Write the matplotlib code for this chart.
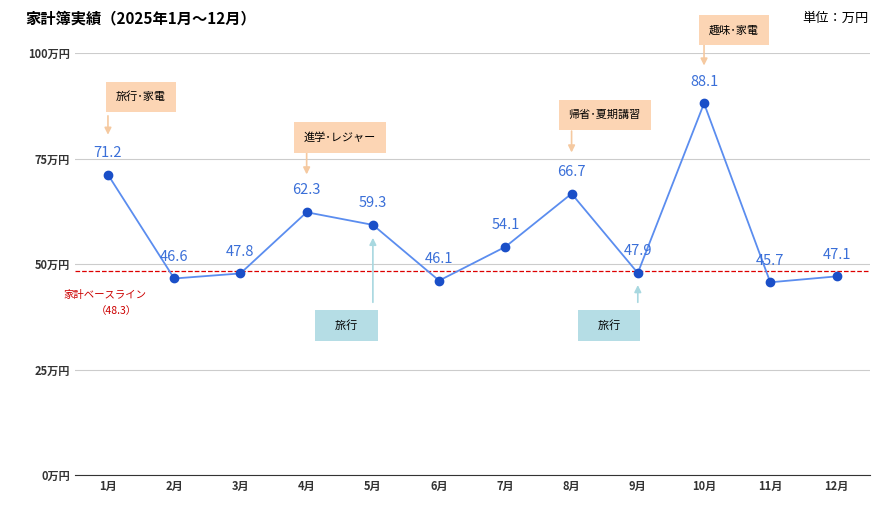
import matplotlib.pyplot as plt

plt.rcParams['font.family'] = ['Noto Sans CJK JP', 'DejaVu Sans']

months = ['1月', '2月', '3月', '4月', '5月', '6月', '7月', '8月', '9月', '10月', '11月', '12月']
values = [71.2, 46.6, 47.8, 62.3, 59.3, 46.1, 54.1, 66.7, 47.9, 88.1, 45.7, 47.1]
baseline = 48.3
yticks = [0, 25, 50, 75, 100]

# (text, box x, box y, arrow x, arrow start y, arrow end y)
notes_up = [('旅行･家電', 1.5, 89.6, 1, 85.8, 80.0),
            ('進学･レジャー', 4.5, 80.0, 4, 77.0, 70.6),
            ('帰省･夏期講習', 8.5, 85.3, 8, 82.2, 75.8),
            ('趣味･家電', 10.45, 105.4, 10, 102.6, 96.4)]
notes_down = [('旅行', 4.6, 35.5, 5, 40.3, 56.9),
              ('旅行', 8.57, 35.5, 9, 40.3, 45.7)]

fig = plt.figure(figsize=(8.91, 5.21), dpi=100)
ax = fig.add_axes([0.084, 0.088, 0.892, 0.81])
x = list(range(1, 13))

ax.plot(x, values, color='#5b8def', lw=1.3, zorder=3)
ax.scatter(x, values, color='#1a4fc8', s=36, zorder=4)
for xi, v in zip(x, values):
    ax.text(xi, v + 3.5, f'{v}', ha='center', va='bottom', color='#3a6fd8', fontsize=10.5)

ax.axhline(baseline, color='#dd0000', ls='--', lw=0.9, zorder=2)
ax.text(0.95, baseline - 5.5, '家計ベースライン', color='#cc0000', fontsize=7.5, ha='center', va='center')
ax.text(1.13, baseline - 9.5, '（48.3）', color='#cc0000', fontsize=7.5, ha='center', va='center')

for t, bx, by, axx, y0, y1 in notes_up:
    ax.text(bx, by, t, ha='center', va='center', fontsize=8,
            bbox=dict(boxstyle='square,pad=0.9', fc='#fcd5b4', ec='none'), zorder=5)
    ax.annotate('', xy=(axx, y1), xytext=(axx, y0),
                arrowprops=dict(arrowstyle='-|>', color='#f5c9a0', lw=1.2))
for t, bx, by, axx, y0, y1 in notes_down:
    ax.text(bx, by, '    ' + t + '    ', ha='center', va='center', fontsize=8,
            bbox=dict(boxstyle='square,pad=0.9', fc='#b5dde5', ec='none'), zorder=5)
    ax.annotate('', xy=(axx, y1), xytext=(axx, y0),
                arrowprops=dict(arrowstyle='-|>', color='#a8d8e0', lw=1.2))

ax.set_xlim(0.5, 12.5)
ax.set_ylim(0, 100)
ax.set_xticks(x)
ax.set_xticklabels(months, fontsize=8)
ax.set_yticks(yticks)
ax.set_yticklabels([f'{v}万円' for v in yticks], fontsize=8)
ax.grid(axis='y', color='#cccccc', lw=0.8)
ax.tick_params(length=0)
for s in ['top', 'right', 'left']:
    ax.spines[s].set_visible(False)
ax.spines['bottom'].set_color('#333333')
for lab in ax.get_xticklabels() + ax.get_yticklabels():
    lab.set_fontweight('bold')
    lab.set_color('#333333')

fig.text(0.028, 0.965, '家計簿実績（2025年1月〜12月）', fontsize=11, fontweight='bold', va='center')
fig.text(0.975, 0.965, '単位：万円', fontsize=9.5, ha='right', va='center')

fig.savefig('out.png', dpi=100)
